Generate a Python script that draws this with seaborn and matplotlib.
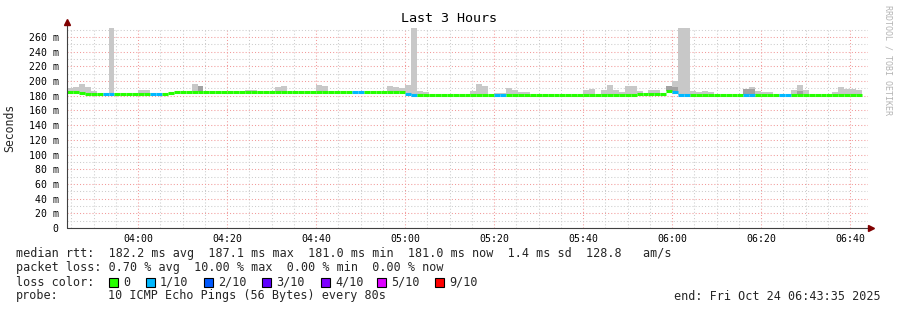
import numpy as np
import pandas as pd
import matplotlib
matplotlib.use("Agg")
import matplotlib.pyplot as plt
import matplotlib.dates as mdates
from matplotlib.ticker import FixedLocator, FuncFormatter
from matplotlib.patches import Rectangle
import seaborn as sns

# ---------------- data (ms, one value per 80 s step) ----------------
median_rtt = [
    184.5, 184.5, 183.5, 182.5, 182.5, 182.5, 182.5, 182.5, 182.5, 182.5,
    182.5, 182.5, 182.5, 182.5, 182.5, 182.5, 182.5, 183.5, 184.5, 184.5,
    184.5, 184.5, 184.5, 184.5, 184.5, 184.5, 184.5, 184.5, 184.5, 184.5,
    184.5, 184.5, 184.5, 184.5, 184.5, 184.5, 184.5, 184.5, 184.5, 184.5,
    184.5, 184.5, 184.5, 184.5, 184.5, 184.5, 184.5, 184.5, 184.5, 184.5,
    184.5, 184.5, 184.5, 184.5, 184.5, 184.5, 184.5, 183.0, 181.5, 181.0,
    181.0, 181.0, 181.0, 181.0, 181.0, 181.0, 181.0, 181.0, 181.0, 181.0,
    181.0, 181.0, 181.0, 181.0, 181.0, 181.0, 181.0, 181.0, 181.0, 181.0,
    181.0, 181.0, 181.0, 181.0, 181.0, 181.0, 181.0, 181.0, 181.0, 181.0,
    181.0, 181.0, 181.0, 181.0, 181.0, 181.0, 182.5, 182.5, 182.5, 182.5,
    182.5, 187.0, 185.5, 181.5, 181.5, 181.0, 181.0, 181.0, 181.0, 181.0,
    181.0, 181.0, 181.0, 181.0, 181.0, 181.0, 181.0, 181.0, 181.0, 181.0,
    181.0, 181.0, 181.0, 181.0, 181.0, 181.0, 181.0, 181.0, 181.0, 181.0,
    181.0, 181.0, 181.0, 181.0,
]
smoke_max = [
    190.5, 192.0, 196.0, 192.0, 186.5, 182.5, 182.5, 300.0, 182.5, 182.5,
    182.5, 182.5, 188.0, 188.0, 182.5, 182.5, 182.5, 183.5, 184.5, 184.5,
    184.5, 196.0, 193.0, 184.5, 184.5, 184.5, 184.5, 184.5, 184.5, 184.5,
    188.0, 188.0, 184.5, 184.5, 184.5, 192.0, 193.0, 184.5, 184.5, 184.5,
    184.5, 184.5, 194.5, 193.0, 184.5, 184.5, 184.5, 184.5, 184.5, 184.5,
    184.5, 184.5, 184.5, 184.5, 193.0, 192.0, 190.5, 194.5, 300.0, 186.5,
    185.5, 181.0, 181.0, 181.0, 181.0, 181.0, 181.0, 181.0, 186.5, 196.0,
    193.0, 181.0, 184.0, 184.0, 190.5, 188.0, 185.5, 184.5, 181.0, 181.0,
    181.0, 181.0, 181.0, 181.0, 181.0, 181.0, 181.0, 188.0, 189.5, 181.0,
    188.0, 194.5, 188.0, 185.5, 193.0, 193.0, 186.5, 182.5, 188.0, 188.0,
    182.5, 193.0, 200.0, 300.0, 300.0, 186.5, 185.5, 186.5, 185.5, 181.0,
    181.0, 181.0, 181.0, 181.0, 189.0, 191.5, 186.5, 185.5, 185.5, 181.0,
    181.0, 181.0, 188.0, 194.5, 188.0, 181.0, 181.0, 181.0, 181.0, 184.5,
    192.0, 189.5, 189.5, 188.0,
]
dark_steps = [22, 101, 102, 114, 115, 123]
dark_top = [193.0, 193.0, 192.0, 189.0, 189.0, 186.0]
loss = [
    0, 0, 0, 0, 0, 0, 1, 1, 0, 0,
    0, 0, 0, 0, 1, 1, 0, 0, 0, 0,
    0, 0, 0, 0, 0, 0, 0, 0, 0, 0,
    0, 0, 0, 0, 0, 0, 0, 0, 0, 0,
    0, 0, 0, 0, 0, 0, 0, 0, 1, 1,
    0, 0, 0, 0, 0, 0, 0, 1, 1, 0,
    0, 0, 0, 0, 0, 0, 0, 0, 0, 0,
    0, 0, 1, 1, 0, 0, 0, 0, 0, 0,
    0, 0, 0, 0, 0, 0, 0, 0, 0, 0,
    0, 0, 0, 0, 0, 0, 0, 0, 0, 0,
    0, 0, 1, 1, 1, 0, 0, 0, 0, 0,
    0, 0, 0, 0, 1, 1, 0, 0, 0, 0,
    1, 1, 0, 0, 0, 0, 0, 0, 0, 0,
    0, 0, 0, 0,
]
loss_labels = ["0", "1/10", "2/10", "3/10", "4/10", "5/10", "9/10"]
loss_colors = ["#26ff00", "#00b8ff", "#0059ff", "#5e00ff", "#7e00ff", "#dd00ff", "#ff0000"]
y_ticks = [0, 20, 40, 60, 80, 100, 120, 140, 160, 180, 200, 220, 240, 260]

# ---------------- figure ----------------
sns.set_theme(style="white")
plt.rcParams['font.family'] = ['DejaVu Sans Mono']

W, H = 897, 310
fig = plt.figure(figsize=(W / 100, H / 100), dpi=100)
fig.patch.set_facecolor("white")
L, R, B, T = 67, 868, 228, 28
ax = fig.add_axes([L / W, 1 - B / H, (R - L) / W, (B - T) / H])
ax.set_facecolor("white")

start = pd.Timestamp("2025-10-24 03:44:00")
times = pd.date_range(start, periods=len(median_rtt), freq="80s")
x = mdates.date2num(times.to_pydatetime())
step = 80 / 86400.0
med = np.array(median_rtt)
hi = np.array(smoke_max)

ax.bar(x, hi - med, bottom=med, width=step, align="edge", color="#c8c8c8",
       linewidth=0, zorder=2)
ds = np.array(dark_steps)
ax.bar(x[ds], np.array(dark_top) - med[ds], bottom=med[ds], width=step,
       align="edge", color="#a2a2a2", linewidth=0, zorder=2.5)
cols = [loss_colors[v] for v in loss]
ax.hlines(med, x, x + step, colors=cols, linewidth=2.2, zorder=3)

ax.set_xlim(mdates.date2num(start.to_pydatetime()),
            mdates.date2num((start + pd.Timedelta(minutes=180)).to_pydatetime()))
ax.set_ylim(0, 272.3)

# grid / ticks
ax.xaxis.set_major_locator(mdates.MinuteLocator(byminute=[0, 20, 40]))
ax.xaxis.set_minor_locator(mdates.MinuteLocator(byminute=[5, 10, 15, 25, 30, 35, 45, 50, 55]))
ax.xaxis.set_major_formatter(mdates.DateFormatter("%H:%M"))
ax.yaxis.set_major_locator(FixedLocator(y_ticks))
ax.yaxis.set_minor_locator(FixedLocator([v + 10 for v in y_ticks]))
ax.yaxis.set_major_formatter(FuncFormatter(lambda v, p: "0" if v == 0 else f"{v:.0f} m"))

ax.set_axisbelow(True)
ax.grid(True, which="major", color="#f29a9a", linestyle=(0, (1, 2)), linewidth=0.75)
ax.grid(True, which="minor", color="#cccccc", linestyle=(0, (1, 2)), linewidth=0.75)
for s in ax.spines.values():
    s.set_visible(False)
ax.tick_params(axis="both", which="major", labelsize=7.1, labelcolor="black",
               color="#505050", width=0.75, length=2)
ax.tick_params(axis="both", which="minor", color="#505050", width=0.75, length=1.5)
ax.tick_params(axis="y", which="major", pad=4)
ax.tick_params(axis="x", which="major", pad=2.5)

# axis lines with arrows
ax.plot([0, 0], [0, (B - 24) / (B - T)], transform=ax.transAxes, color="#404040",
        lw=0.8, clip_on=False, zorder=5)
ax.plot([0, (871 - L) / (R - L)], [0, 0], transform=ax.transAxes, color="#404040",
        lw=0.8, clip_on=False, zorder=5)
ax.plot([0], [(B - 22) / (B - T)], transform=ax.transAxes, marker="^", color="#800000",
        markersize=4, clip_on=False, zorder=6)
ax.plot([(871 - L) / (R - L)], [0], transform=ax.transAxes, marker=">", color="#800000",
        markersize=4, clip_on=False, zorder=6)

# texts
def fy(py):
    return 1 - py / H

fig.text(0.5, fy(19), "Last 3 Hours", ha="center", va="center", fontsize=9.6, color="black")
fig.text(10 / W, fy(128), "Seconds", rotation=90, ha="center", va="center", fontsize=8.3)
fig.text(888 / W, fy(60), "RRDTOOL / TOBI OETIKER", rotation=270, ha="center", va="center",
         fontsize=6, color="#b4b4b4")

fs = 8.5
fig.text(16 / W, fy(254),
         "median rtt:  182.2 ms avg  187.1 ms max  181.0 ms min  181.0 ms now  1.4 ms sd  128.8   am/s",
         ha="left", va="center", fontsize=fs)
fig.text(16 / W, fy(268), "packet loss: 0.70 % avg  10.00 % max  0.00 % min  0.00 % now",
         ha="left", va="center", fontsize=fs)
fig.text(16 / W, fy(282), "loss color:", ha="left", va="center", fontsize=fs)
sw_x = [109, 146, 204, 262, 321, 377, 435]
for sx, lab, c in zip(sw_x, loss_labels, loss_colors):
    fig.patches.append(Rectangle((sx / W, fy(286.5)), 8.5 / W, 9 / H, transform=fig.transFigure,
                                 facecolor=c, edgecolor="black", linewidth=0.8))
    fig.text((sx + 14) / W, fy(282), lab, ha="left", va="center", fontsize=fs)
fig.text(16 / W, fy(296), "probe:", ha="left", va="center", fontsize=fs)
fig.text(108 / W, fy(296), "10 ICMP Echo Pings (56 Bytes) every 80s", ha="left", va="center",
         fontsize=fs)
fig.text(881 / W, fy(296), "end: Fri Oct 24 06:43:35 2025", ha="right", va="center", fontsize=fs)

fig.savefig("out.png", dpi=100, facecolor="white")
